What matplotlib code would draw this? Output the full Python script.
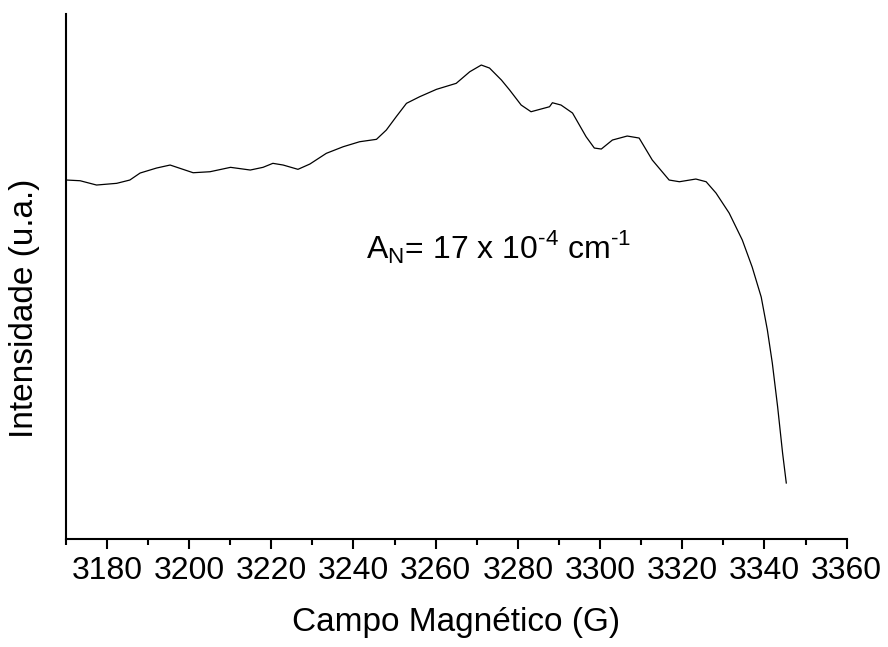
import matplotlib
matplotlib.use("Agg")
import matplotlib.pyplot as plt
from matplotlib.ticker import MultipleLocator

plt.rcParams["font.family"] = ["Liberation Sans", "DejaVu Sans"]
plt.rcParams["mathtext.fontset"] = "custom"
plt.rcParams["mathtext.rm"] = "Liberation Sans"

# EPR spectrum (field in G, intensity in arbitrary units)
campo = [
    3170.2, 3173.5, 3177.5, 3182.4, 3185.6, 3188.1, 3192.1, 3195.4, 3197.8,
    3201.0, 3205.1, 3210.1, 3214.9, 3218.0, 3220.4, 3222.9, 3226.5, 3229.4,
    3233.4, 3237.5, 3241.5, 3245.6, 3248.0, 3250.4, 3252.9, 3256.1, 3260.2,
    3265.0, 3268.3, 3271.1, 3273.1, 3276.0, 3278.0, 3280.8, 3283.2, 3287.7,
    3288.4, 3290.5, 3293.3, 3296.6, 3298.6, 3300.3, 3303.0, 3306.6, 3309.5,
    3312.7, 3316.8, 3319.3, 3323.3, 3325.8, 3328.2, 3331.4, 3334.6, 3337.0,
    3339.2, 3340.7, 3341.9, 3343.2, 3344.4, 3345.3,
]
intensidade = [
    359, 358.3, 354, 355.7, 359, 366, 371, 374, 370.7,
    366.3, 367.3, 371.7, 369, 371.7, 375.7, 374, 369.7, 375,
    385.7, 392.3, 397.3, 399.7, 409, 422.3, 435.7, 442.3, 449.7,
    455.7, 467.3, 474, 471, 459, 449, 434, 427.3, 432.3,
    436.3, 434, 426, 402.3, 391, 390, 399, 403, 401,
    379, 359, 357.3, 360, 357.3, 346, 326, 299, 272,
    242, 209, 176, 132, 86, 56,
]

fig = plt.figure(figsize=(8.88, 6.47), dpi=100)
ax = fig.add_axes([0.074, 0.1669, 0.8795, 0.8114])

ax.plot(campo, intensidade, color="black", linewidth=0.9)

ax.set_xlim(3170, 3360)
ax.set_ylim(0, 525)
ax.xaxis.set_major_locator(MultipleLocator(20))
ax.xaxis.set_minor_locator(MultipleLocator(10))
ax.set_yticks([])

for side in ["top", "right"]:
    ax.spines[side].set_visible(False)
for side in ["left", "bottom"]:
    ax.spines[side].set_linewidth(1.5)

ax.tick_params(axis="x", which="major", direction="out", length=7.2, width=1.5,
               labelsize=23, pad=5)
ax.tick_params(axis="x", which="minor", direction="out", length=4.3, width=1.5)

ax.text(3243.0, 280,
        r"A$_\mathregular{N}$= 17 x 10$^{\text{-4}}$ cm$^{\text{-1}}$",
        fontsize=23, ha="left", va="baseline")

fig.text(0.514, 0.0247, "Campo Magnético (G)", fontsize=24, ha="center",
         va="baseline")
fig.text(0.028, 0.523, "Intensidade (u.a.)", fontsize=24, ha="center",
         va="center", rotation=90)

fig.savefig("out.png", dpi=100)
